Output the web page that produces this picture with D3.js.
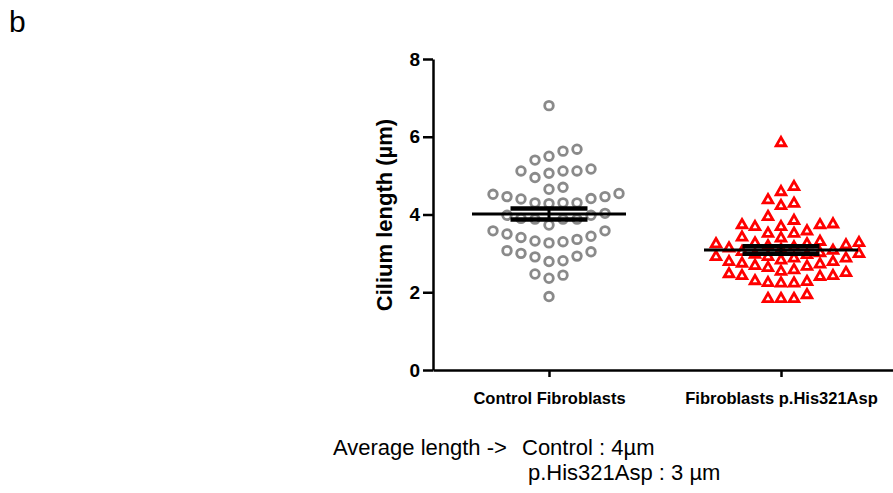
<!DOCTYPE html>
<html lang="en">
<head>
<meta charset="UTF-8">
<title>Cilium length</title>
<script src="https://d3js.org/d3.v7.min.js"></script>
<style>
  body { margin: 0; background: #fff; }
  text { font-family: Arial, "Liberation Sans", sans-serif; }
</style>
</head>
<body>
<script>
// values (µm)
var categories = ["Control Fibroblasts", "Fibroblasts p.His321Asp"];

var controlValues = [
    6.80,
    5.68, 5.63, 5.50, 5.40,
    5.17, 5.12, 5.12, 5.12, 5.06, 4.95,
    4.70, 4.65,
    4.54, 4.52, 4.46, 4.46, 4.41, 4.40, 4.30, 4.30, 4.30, 4.28,
    4.03, 3.98, 3.98, 3.90, 3.88, 3.88, 3.88, 3.73,
    3.58, 3.58, 3.50, 3.44, 3.41, 3.36, 3.32, 3.30, 3.27,
    3.07, 3.04, 3.00, 2.93, 2.91, 2.81, 2.79,
    2.47, 2.44, 2.36,
    1.89
];

var mutantValues = [
    5.84,
    4.71, 4.58, 4.37, 4.28, 4.22,
    3.94, 3.84, 3.75, 3.73, 3.73, 3.68, 3.68, 3.57, 3.51, 3.51, 3.41, 3.39,
    3.30, 3.27, 3.26, 3.24, 3.24, 3.21, 3.19, 3.16, 3.13, 3.10, 3.07, 3.04,
    3.01, 2.99, 2.97,
    2.96, 2.91, 2.91, 2.87, 2.87, 2.82, 2.78, 2.78, 2.74, 2.72, 2.68, 2.66, 2.63,
    2.57, 2.53, 2.50, 2.47, 2.42, 2.42, 2.40, 2.29, 2.27, 2.24, 2.23, 2.23,
    1.93, 1.83, 1.83, 1.83
];

var yTicks = [0, 2, 4, 6, 8];

var w = 893, h = 493;

var svg = d3.select("body").append("svg")
    .attr("width", w)
    .attr("height", h);

var y = d3.scaleLinear().domain([0, 8]).range([370, 59]);
var x = d3.scalePoint().domain(categories).range([433, 897]).padding(0.5);

// grid scatter like Prism: sorted values go to the free column nearest the centre
function swarm(values, step, gap) {
    var cols = {};
    return values.slice().sort(d3.ascending).map(function(v) {
        var py = y(v);
        for (var k = 0; ; k++) {
            var c = k === 0 ? 0 : (k % 2 ? (k + 1) / 2 : -k / 2);
            var list = cols[c] || (cols[c] = []);
            var ok = list.every(function(q) { return Math.abs(q - py) >= gap; });
            if (ok) {
                list.push(py);
                return { v: v, dx: c * step };
            }
        }
    });
}

var ctrlPts = swarm(controlValues, 14, 13.5);
var mutPts = swarm(mutantValues, 13, 10.5);

svg.append("g").selectAll("circle")
    .data(ctrlPts)
    .enter()
    .append("circle")
    .attr("cx", function(d) { return x(categories[0]) + d.dx; })
    .attr("cy", function(d) { return y(d.v); })
    .attr("r", 4.3)
    .attr("fill", "none")
    .attr("stroke", "#8a8a8a")
    .attr("stroke-width", 2.8);

var tri = d3.symbol().type(d3.symbolTriangle).size(40);
svg.append("g").selectAll("path")
    .data(mutPts)
    .enter()
    .append("path")
    .attr("d", tri)
    .attr("transform", function(d) {
        return "translate(" + (x(categories[1]) + d.dx) + "," + y(d.v) + ")";
    })
    .attr("fill", "none")
    .attr("stroke", "#ff0000")
    .attr("stroke-width", 2.8)
    .attr("stroke-linejoin", "miter");

// mean and SEM
[controlValues, mutantValues].forEach(function(vals, i) {
    var m = d3.mean(vals);
    var sem = d3.deviation(vals) / Math.sqrt(vals.length);
    var cx = x(categories[i]);
    var g = svg.append("g").attr("stroke", "#000");
    g.append("line")
        .attr("x1", cx - 77).attr("x2", cx + 77)
        .attr("y1", y(m)).attr("y2", y(m))
        .attr("stroke-width", 3);
    [m - sem, m + sem].forEach(function(e) {
        g.append("line")
            .attr("x1", cx - 38.5).attr("x2", cx + 38.5)
            .attr("y1", y(e)).attr("y2", y(e))
            .attr("stroke-width", 4.5);
    });
    g.append("line")
        .attr("x1", cx).attr("x2", cx)
        .attr("y1", y(m - sem)).attr("y2", y(m + sem))
        .attr("stroke-width", 3);
});

// axes
var yAxis = svg.append("g")
    .attr("transform", "translate(433,0)")
    .call(d3.axisLeft(y).tickValues(yTicks).tickSize(10).tickSizeOuter(0).tickPadding(3));

var xAxis = svg.append("g")
    .attr("transform", "translate(0,370)")
    .call(d3.axisBottom(x).tickSize(7).tickSizeOuter(0).tickPadding(15));

[yAxis, xAxis].forEach(function(a) {
    a.select(".domain").attr("stroke", "#000").attr("stroke-width", 2.5);
    a.selectAll(".tick line").attr("stroke", "#000").attr("stroke-width", 2.5);
    a.selectAll("text")
        .attr("fill", "#000")
        .style("font-family", "Arial, 'Liberation Sans', sans-serif")
        .style("font-weight", "bold");
});
yAxis.selectAll("text").style("font-size", "19px");
xAxis.selectAll("text").style("font-size", "16.5px");

svg.append("text")
    .attr("transform", "translate(392,215) rotate(-90)")
    .attr("text-anchor", "middle")
    .style("font-size", "22px")
    .style("font-weight", "bold")
    .text("Cilium length (µm)");

svg.append("text")
    .attr("x", 9).attr("y", 32)
    .style("font-size", "30px")
    .text("b");

svg.append("text")
    .attr("x", 333).attr("y", 455)
    .style("font-size", "22px")
    .text("Average length ->");

svg.append("text")
    .attr("x", 522).attr("y", 455)
    .style("font-size", "22px")
    .text("Control : 4µm");

svg.append("text")
    .attr("x", 528).attr("y", 480)
    .style("font-size", "22px")
    .text("p.His321Asp : 3 µm");
</script>
</body>
</html>
